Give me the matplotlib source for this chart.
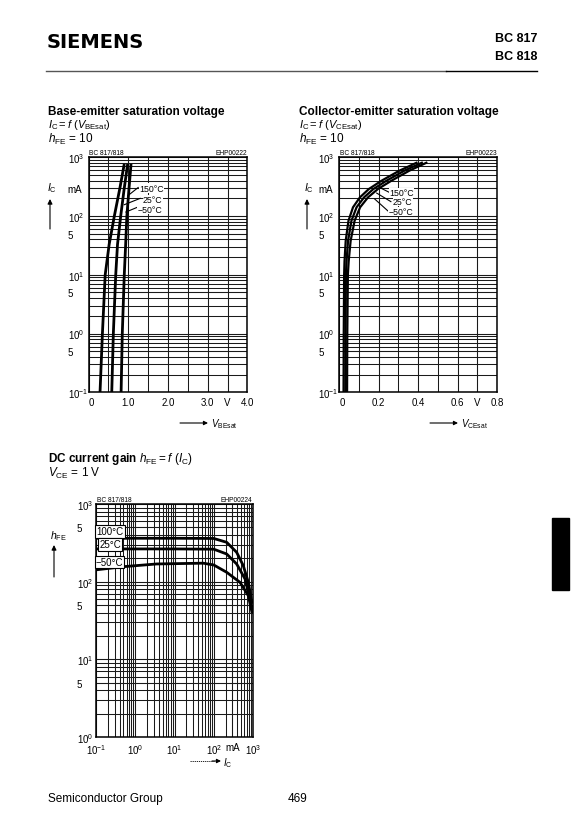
import matplotlib
matplotlib.use("Agg")
import matplotlib.pyplot as plt
import numpy as np
from matplotlib.ticker import LogLocator, FixedLocator, NullFormatter
from matplotlib.lines import Line2D
from matplotlib.patches import Rectangle, FancyArrowPatch

plt.rcParams['font.family'] = ['Liberation Sans', 'DejaVu Sans']
plt.rcParams['mathtext.fontset'] = 'custom'
plt.rcParams['mathtext.rm'] = 'Liberation Sans'
plt.rcParams['mathtext.it'] = 'Liberation Sans:italic'
plt.rcParams['mathtext.bf'] = 'Liberation Sans:bold'

# ---------------- data ----------------
# Base-emitter saturation voltage  (Ic in mA, VBEsat in V)
be_ic = [0.1, 1, 10, 33, 100, 300, 770]
be_v_150 = [0.29, 0.35, 0.42, 0.52, 0.65, 0.79, 0.90]
be_v_25 = [0.585, 0.625, 0.685, 0.73, 0.81, 0.90, 0.985]
be_v_m50 = [0.82, 0.85, 0.90, 0.935, 0.965, 1.02, 1.07]

# Collector-emitter saturation voltage  (Ic in mA, VCEsat in V)
ce_ic = [0.1, 1, 10, 17, 38, 83, 141, 208, 288, 400, 591, 822]
ce_v_150 = [0.022, 0.023, 0.025, 0.027, 0.033, 0.047, 0.070, 0.105, 0.150, 0.215, 0.305, 0.397]
ce_v_25 = [0.031, 0.032, 0.034, 0.037, 0.045, 0.062, 0.088, 0.126, 0.173, 0.240, 0.330, 0.424]
ce_v_m50 = [0.040, 0.041, 0.044, 0.048, 0.058, 0.078, 0.106, 0.146, 0.196, 0.265, 0.355, 0.447]

# DC current gain  (Ic in mA, hFE)
hfe_100_ic = [0.1, 1, 10, 100, 214, 383, 565, 760, 935]
hfe_100 = [362, 362, 362, 360, 321, 239, 161, 98, 54]
hfe_25_ic = [0.1, 1, 10, 100, 214, 383, 630, 830, 950]
hfe_25 = [264, 264, 264, 262, 227, 169, 108, 60, 45]
hfe_m50_ic = [0.1, 0.5, 3.5, 54, 100, 214, 467, 760, 935]
hfe_m50 = [142, 156, 169, 173, 164, 132, 98, 66, 41]

temp_labels_sat = ["150°C", "25°C", "−50°C"]
temp_labels_gain = ["100°C", "25°C", "−50°C"]

be_xticks = [0, 1.0, 2.0, 3.0, 3.5, 4.0]
be_xticklabels = ["0", "1.0", "2.0", "3.0", "V", "4.0"]
ce_xticks = [0, 0.2, 0.4, 0.6, 0.7, 0.8]
ce_xticklabels = ["0", "0.2", "0.4", "0.6", "V", "0.8"]
sat_yticks = [1000, 300, 100, 50, 10, 5, 1, 0.5, 0.1]
sat_yticklabels = ["$10^3$", "mA", "$10^2$", "5", "$10^1$", "5", "$10^0$", "5", "$10^{-1}$"]
gain_xticks = [0.1, 1, 10, 100, 300, 1000]
gain_xticklabels = ["$10^{-1}$", "$10^0$", "$10^1$", "$10^2$", "mA", "$10^3$"]
gain_yticks = [1000, 500, 100, 50, 10, 5, 1]
gain_yticklabels = ["$10^3$", "5", "$10^2$", "5", "$10^1$", "5", "$10^0$"]

# ---------------- figure ----------------
W, H = 575, 828
fig = plt.figure(figsize=(W / 100, H / 100), dpi=100)


def rect(x0, y0, x1, y1):
    return [x0 / W, 1 - y1 / H, (x1 - x0) / W, (y1 - y0) / H]


def ftext(x, y, s, **kw):
    kw.setdefault('va', 'baseline')
    fig.text(x / W, 1 - y / H, s, **kw)


def fline(x0, y0, x1, y1, **kw):
    fig.add_artist(Line2D([x0 / W, x1 / W], [1 - y0 / H, 1 - y1 / H],
                          transform=fig.transFigure, **kw))


def farrow(x0, y0, x1, y1, lw=0.8, ms=7):
    fig.add_artist(FancyArrowPatch(
        (x0 / W, 1 - y0 / H), (x1 / W, 1 - y1 / H), transform=fig.transFigure,
        arrowstyle='-|>', mutation_scale=ms, lw=lw, color='black',
        shrinkA=0, shrinkB=0))


GRID_KW = dict(color='#1a1a1a', lw=0.75)


def style_axes(ax, ypad, ylsize=7, first_x_left=False):
    ax.yaxis.remove_overlapping_locs = False
    ax.xaxis.remove_overlapping_locs = False
    ax.grid(True, which='both', **GRID_KW)
    ax.set_axisbelow(True)
    ax.tick_params(which='both', length=0)
    ax.tick_params(axis='y', which='major', pad=ypad, labelsize=ylsize)
    ax.tick_params(axis='x', which='major', pad=3.5, labelsize=7)
    for lbl in ax.get_yticklabels():
        lbl.set_ha('left')
    if first_x_left:
        ax.get_xticklabels()[0].set_ha('left')
    for sp in ax.spines.values():
        sp.set_linewidth(1.1)


def log_minor(axis):
    axis.set_minor_locator(LogLocator(base=10, subs=np.arange(1, 10), numticks=60))
    axis.set_minor_formatter(NullFormatter())


# ---------- header ----------
ftext(47, 48, "SIEMENS", fontsize=14, fontweight='bold', family='DejaVu Sans')
ftext(537, 42, "BC 817", fontsize=9, fontweight='bold', ha='right')
ftext(537, 60, "BC 818", fontsize=9, fontweight='bold', ha='right')
fline(46, 72, 446, 72, color='#555555', lw=1.0)
fline(446, 72, 537, 72, color='black', lw=1.0)

# ---------- chart 1 ----------
ax1 = fig.add_axes(rect(88.5, 158.3, 247.5, 393.3))
ax1.set_xlim(0, 4.0)
ax1.set_yscale('log')
ax1.set_ylim(0.1, 1000)
ax1.xaxis.set_minor_locator(FixedLocator(np.arange(0, 4.01, 0.5)))
log_minor(ax1.yaxis)
for v in [be_v_150, be_v_25, be_v_m50]:
    ax1.plot(v, be_ic, color='black', lw=2.0, solid_capstyle='butt')
ax1.set_xticks(be_xticks)
ax1.set_xticklabels(be_xticklabels)
ax1.set_yticks(sat_yticks)
ax1.set_yticklabels(sat_yticklabels)
style_axes(ax1, 15, first_x_left=True)
for (x, y), s in zip([(1.58, 300), (1.62, 188), (1.55, 130)], temp_labels_sat):
    ax1.text(x, y, s, fontsize=6.3, ha='center', va='center',
             bbox=dict(boxstyle='square,pad=0.03', fc='white', ec='none'))
for (x0, y0), (x1, y1) in [((0.99, 222), (1.25, 306)), ((0.90, 156), (1.30, 200)),
                           ((0.94, 117), (1.25, 143))]:
    ax1.plot([x0, x1], [y0, y1], color='black', lw=0.8)

ftext(48, 115, "Base-emitter saturation voltage", fontsize=8.5, fontweight='bold')
ftext(48, 128, r"$I_\mathrm{C} = f\ (V_\mathrm{BEsat})$", fontsize=8)
ftext(48, 143, r"$h_\mathrm{FE}$ = 10", fontsize=8.5)
ftext(89, 155, "BC 817/818", fontsize=4.8)
ftext(247, 155, "EHP00222", fontsize=4.8, ha='right')
ftext(47, 191, r"$I_\mathrm{C}$", fontsize=7.5)
farrow(50, 230, 50, 200)
farrow(180, 424, 208, 424, ms=6)
ftext(211, 427, r"$V_\mathrm{BEsat}$", fontsize=7)

# ---------- chart 2 ----------
ax2 = fig.add_axes(rect(339.2, 158.3, 497, 393.3))
ax2.set_xlim(0, 0.8)
ax2.set_yscale('log')
ax2.set_ylim(0.1, 1000)
ax2.xaxis.set_minor_locator(FixedLocator(np.arange(0, 0.801, 0.1)))
log_minor(ax2.yaxis)
for v in [ce_v_150, ce_v_25, ce_v_m50]:
    ax2.plot(v, ce_ic, color='black', lw=1.6, solid_capstyle='butt')
ax2.set_xticks(ce_xticks)
ax2.set_xticklabels(ce_xticklabels)
ax2.set_yticks(sat_yticks)
ax2.set_yticklabels(sat_yticklabels)
style_axes(ax2, 15, first_x_left=True)
for (x, y), s in zip([(0.316, 252), (0.322, 177), (0.311, 119)], temp_labels_sat):
    ax2.text(x, y, s, fontsize=6.3, ha='center', va='center',
             bbox=dict(boxstyle='square,pad=0.03', fc='white', ec='none'))
for (x0, y0), (x1, y1) in [((0.20, 312), (0.252, 255)), ((0.19, 246), (0.262, 176)),
                           ((0.18, 195), (0.252, 118))]:
    ax2.plot([x0, x1], [y0, y1], color='black', lw=0.8)

ftext(299, 115, "Collector-emitter saturation voltage", fontsize=8.5, fontweight='bold')
ftext(299, 128, r"$I_\mathrm{C} = f\ (V_\mathrm{CEsat})$", fontsize=8)
ftext(299, 143, r"$h_\mathrm{FE}$ = 10", fontsize=8.5)
ftext(340, 155, "BC 817/818", fontsize=4.8)
ftext(497, 155, "EHP00223", fontsize=4.8, ha='right')
ftext(304, 191, r"$I_\mathrm{C}$", fontsize=7.5)
farrow(307, 230, 307, 200)
farrow(430, 424, 458, 424, ms=6)
ftext(461, 427, r"$V_\mathrm{CEsat}$", fontsize=7)

# ---------- chart 3 ----------
ax3 = fig.add_axes(rect(96, 505, 253, 738))
ax3.set_xscale('log')
ax3.set_yscale('log')
ax3.set_xlim(0.1, 1000)
ax3.set_ylim(1, 1000)
log_minor(ax3.xaxis)
log_minor(ax3.yaxis)
ax3.plot(hfe_100_ic, hfe_100, color='black', lw=2.0)
ax3.plot(hfe_25_ic, hfe_25, color='black', lw=2.0)
ax3.plot(hfe_m50_ic, hfe_m50, color='black', lw=2.0)
ax3.set_xticks(gain_xticks)
ax3.set_xticklabels(gain_xticklabels)
ax3.set_yticks(gain_yticks)
ax3.set_yticklabels(gain_yticklabels)
style_axes(ax3, 14)
for (x, y), s in zip([(0.227, 443), (0.227, 301), (0.22, 179)], temp_labels_gain):
    ax3.text(x, y, s, fontsize=7, ha='center', va='center',
             bbox=dict(boxstyle='square,pad=0.12', fc='white', ec='black', lw=0.8))

ftext(48, 462, r"DC current gain $h_\mathrm{FE} = f\ (I_\mathrm{C})$", fontsize=8.5,
      fontweight='bold')
ftext(48, 477, r"$V_\mathrm{CE}$ = 1 V", fontsize=8.5)
ftext(97, 502, "BC 817/818", fontsize=4.8)
ftext(252, 502, "EHP00224", fontsize=4.8, ha='right')
ftext(50, 539, r"$h_\mathrm{FE}$", fontsize=7.5)
farrow(54, 578, 54, 546)
fline(190, 762, 214, 762, color='black', lw=0.6, ls=(0, (1.5, 1)))
farrow(212, 762, 221, 762, ms=6)
ftext(223, 766, r"$I_\mathrm{C}$", fontsize=7)

# ---------- side tab & footer ----------
fig.add_artist(Rectangle((552 / W, 1 - 591 / H), 17 / W, 72 / H,
                         transform=fig.transFigure, color='black'))
ftext(48, 802, "Semiconductor Group", fontsize=8.5)
ftext(298, 802, "469", fontsize=8.5, ha='center')

fig.savefig("out.png", dpi=100, facecolor='white')
